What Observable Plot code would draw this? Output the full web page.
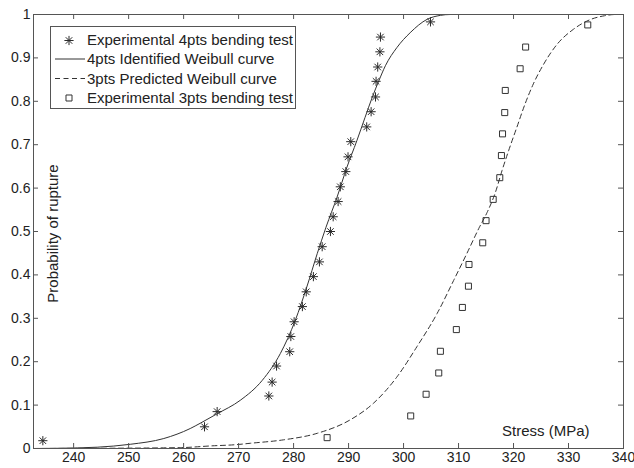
<!DOCTYPE html>
<html><head><meta charset="utf-8">
<script src="https://cdn.jsdelivr.net/npm/d3@7"></script>
<script src="https://cdn.jsdelivr.net/npm/@observablehq/plot@0.6"></script>
<style>
body{margin:0;background:#fff}
#chart{position:relative;width:634px;height:468px}
</style>
</head><body><div id="chart"></div>
<script>
// Experimental 4pts bending test (stress MPa, probability)
const exp4Stress = [234.4, 263.8, 266.1, 275.5, 276.1, 276.9, 279.3, 279.5, 280.1, 281.6, 282.3, 283.6, 284.7, 285.2, 286.7, 287.2, 288.1, 288.5, 289.5, 289.9, 290.4, 293.3, 294.1, 294.9, 295.0, 295.3, 295.7, 295.8, 304.9];
const exp4Prob   = [0.018, 0.050, 0.085, 0.121, 0.153, 0.190, 0.223, 0.258, 0.292, 0.327, 0.361, 0.396, 0.430, 0.465, 0.500, 0.534, 0.569, 0.603, 0.638, 0.672, 0.707, 0.741, 0.776, 0.810, 0.846, 0.879, 0.914, 0.948, 0.983];
// Experimental 3pts bending test
const exp3Stress = [286.1, 301.3, 304.1, 306.4, 306.7, 309.6, 310.7, 311.8, 311.9, 314.4, 315.0, 316.3, 317.5, 317.8, 318.0, 318.4, 318.5, 321.2, 322.2, 333.5];
const exp3Prob   = [0.025, 0.075, 0.125, 0.174, 0.224, 0.274, 0.325, 0.374, 0.424, 0.474, 0.525, 0.574, 0.624, 0.675, 0.725, 0.774, 0.825, 0.875, 0.925, 0.976];
// 4pts Identified Weibull curve
const w4Stress = [232.7, 237.0, 244.3, 250.3, 256.4, 261.2, 263.0, 266.1, 270.3, 274.3, 277.6, 280.3, 282.4, 284.3, 285.9, 287.9, 289.7, 291.5, 293.0, 294.3, 295.5, 296.7, 298.8, 301.2, 304.3, 306.7, 308.5, 310.0];
const w4Prob   = [0.000, 0.0005, 0.003, 0.0097, 0.023, 0.046, 0.058, 0.080, 0.111, 0.157, 0.219, 0.295, 0.372, 0.449, 0.510, 0.579, 0.648, 0.709, 0.763, 0.809, 0.847, 0.882, 0.924, 0.958, 0.989, 0.998, 1.000, 1.000];
// 3pts Predicted Weibull curve
const w3Stress = [232.7, 245.0, 259.4, 265.0, 269.7, 272.1, 278.2, 284.3, 290.3, 294.5, 298.8, 302.4, 306.1, 309.1, 311.5, 313.8, 315.2, 316.7, 317.9, 319.1, 320.6, 322.1, 323.6, 325.5, 327.9, 330.9, 333.9, 336.5, 338.5, 340.0];
const w3Prob   = [0.000, 0.0005, 0.002, 0.006, 0.009, 0.012, 0.020, 0.035, 0.066, 0.104, 0.165, 0.234, 0.311, 0.387, 0.449, 0.510, 0.544, 0.590, 0.640, 0.686, 0.740, 0.794, 0.840, 0.886, 0.931, 0.966, 0.988, 0.997, 1.000, 1.000];

const xTicks = [240, 250, 260, 270, 280, 290, 300, 310, 320, 330, 340];
const yTicks = [0, 0.1, 0.2, 0.3, 0.4, 0.5, 0.6, 0.7, 0.8, 0.9, 1];
const legendLabels = ["Experimental 4pts bending test", "4pts Identified Weibull curve", "3pts Predicted Weibull curve", "Experimental 3pts bending test"];

const exp4 = exp4Stress.map((s, i) => ({s, p: exp4Prob[i]}));
const exp3 = exp3Stress.map((s, i) => ({s, p: exp3Prob[i]}));
const w4 = w4Stress.map((s, i) => ({s, p: w4Prob[i]}));
const w3 = w3Stress.map((s, i) => ({s, p: w3Prob[i]}));

const asterisk = {
  draw(ctx, size) {
    const r = Math.sqrt(size / Math.PI), d = r * Math.SQRT1_2;
    ctx.moveTo(-r, 0); ctx.lineTo(r, 0);
    ctx.moveTo(0, -r); ctx.lineTo(0, r);
    ctx.moveTo(-d, -d); ctx.lineTo(d, d);
    ctx.moveTo(-d, d); ctx.lineTo(d, -d);
  }
};

const ink = "#2a2a2a";
const axisInk = "#555";
const font = "'Liberation Sans', Arial, sans-serif";
const fmtY = d => String(+d.toFixed(1));

const W = 634, H = 468, mL = 33, mR = 11, mT = 14, mB = 20;
const fw = W - mL - mR, fh = H - mT - mB, tl = 5;

const chart = Plot.plot({
  width: W, height: H,
  marginLeft: mL, marginRight: mR, marginTop: mT, marginBottom: mB,
  style: {fontFamily: font, fontSize: "14px", color: "#222", background: "#fff", overflow: "visible"},
  x: {domain: [232.7, 340]},
  y: {domain: [0, 1]},
  marks: [
    Plot.line(w4, {x: "s", y: "p", stroke: "#333", strokeWidth: 1, curve: "monotone-x"}),
    Plot.line(w3, {x: "s", y: "p", stroke: "#333", strokeWidth: 1, strokeDasharray: "5,3.5", curve: "monotone-x"}),
    Plot.dot(exp4, {x: "s", y: "p", symbol: asterisk, r: 4.6, stroke: ink, fill: "none", strokeWidth: 1}),
    Plot.dot(exp3, {x: "s", y: "p", symbol: "square", r: 3.4, stroke: "#333", fill: "none", strokeWidth: 1}),
    // inward ticks on all four sides
    Plot.tickX(xTicks, {x: d => d, insetTop: fh - tl, stroke: axisInk}),
    Plot.tickX(xTicks, {x: d => d, insetBottom: fh - tl, stroke: axisInk}),
    Plot.tickY(yTicks, {y: d => d, insetRight: fw - tl, stroke: axisInk}),
    Plot.tickY(yTicks, {y: d => d, insetLeft: fw - tl, stroke: axisInk}),
    Plot.axisX({ticks: xTicks, tickSize: 0, tickPadding: 4, tickFormat: d => d, label: null, fontSize: 14}),
    Plot.axisY({ticks: yTicks, tickSize: 0, tickPadding: 3, tickFormat: fmtY, label: null, fontSize: 14}),
    Plot.frame({stroke: axisInk}),
    Plot.text(["Probability of rupture"], {text: d => d, frameAnchor: "left", textAnchor: "middle", rotate: -90, dx: 20, dy: 2, lineAnchor: "middle", fill: "#222", fontSize: 15}),
    Plot.text(["Stress (MPa)"], {text: d => d, frameAnchor: "bottom-right", textAnchor: "end", lineAnchor: "middle", dx: -34, dy: -17, fill: "#222", fontSize: 15})
  ]
});
document.getElementById("chart").appendChild(chart);

// Legend box (drawn into the same SVG)
const svg = d3.select(chart);
const lg = svg.append("g").attr("font-family", font).attr("font-size", 15).attr("text-anchor", "start");
lg.append("rect").attr("x", 50.5).attr("y", 26.5).attr("width", 245).attr("height", 82)
  .attr("fill", "#fff").attr("stroke", axisInk);
const rowY = i => 39.5 + i * 19.5;
lg.append("path").attr("transform", `translate(69,${rowY(0) + 1})`)
  .attr("d", d3.symbol(asterisk, Math.PI * 4.6 * 4.6)()).attr("stroke", ink).attr("fill", "none");
lg.append("line").attr("x1", 55).attr("x2", 85).attr("y1", rowY(1)).attr("y2", rowY(1)).attr("stroke", "#333");
lg.append("line").attr("x1", 55).attr("x2", 85).attr("y1", rowY(2)).attr("y2", rowY(2)).attr("stroke", "#333").attr("stroke-dasharray", "5,3.5");
lg.append("path").attr("transform", `translate(69,${rowY(3)})`)
  .attr("d", d3.symbol(d3.symbolSquare, Math.PI * 3.4 * 3.4)()).attr("stroke", "#333").attr("fill", "none");
lg.selectAll("text.lab").data(legendLabels).join("text").attr("class", "lab")
  .attr("x", 87).attr("y", (d, i) => rowY(i)).attr("dy", "0.35em").attr("text-anchor", "start").attr("fill", "#222").text(d => d);
</script>
</body></html>
